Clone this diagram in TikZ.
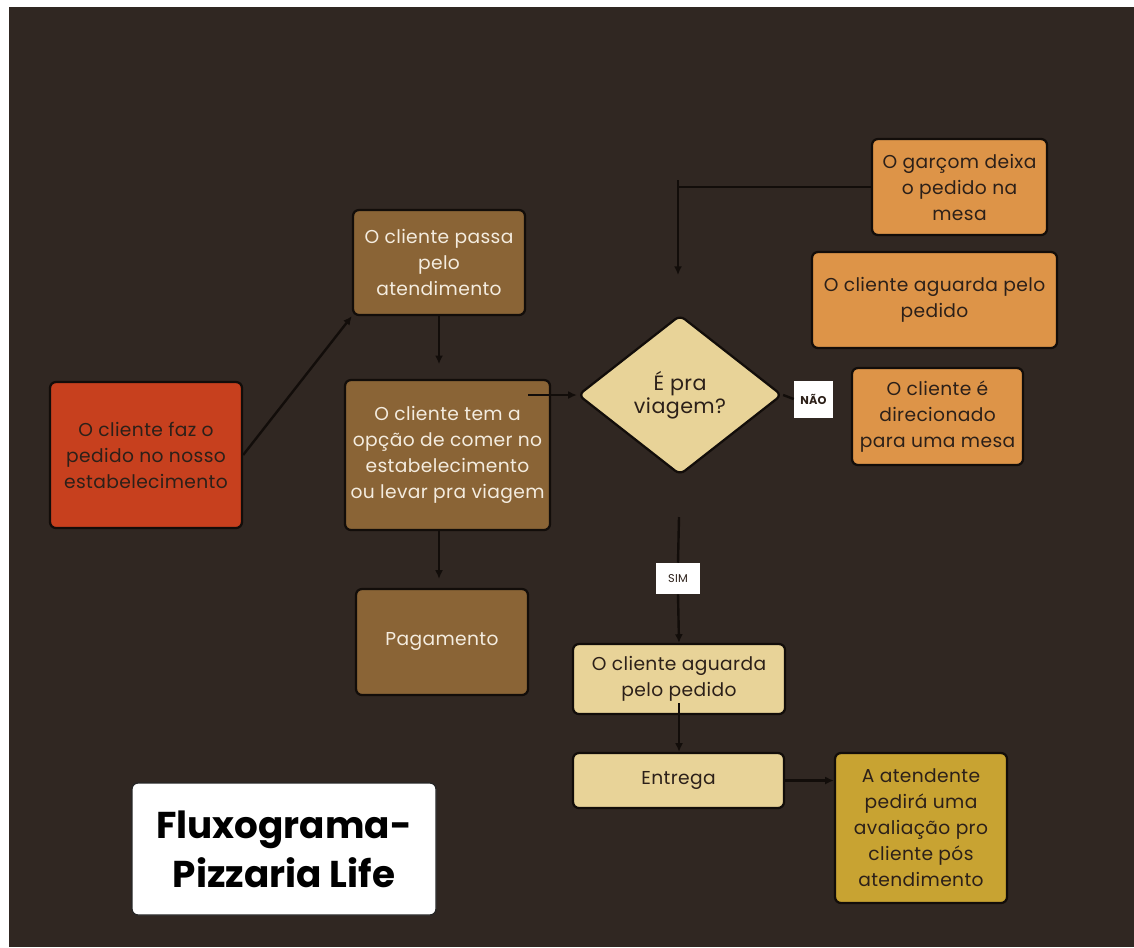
\documentclass[tikz,border=0pt]{standalone}
\usepackage{fontspec}
\setmainfont{Poppins}[LetterSpace=2]
\newfontfamily\titlefont{Poppins}
\usetikzlibrary{shapes.geometric,arrows.meta,calc}
\definecolor{bgdark}{HTML}{302722}
\definecolor{redbox}{HTML}{C7401E}
\definecolor{brownbox}{HTML}{8A6436}
\definecolor{lightbox}{HTML}{E8D398}
\definecolor{orangebox}{HTML}{DD9448}
\definecolor{goldbox}{HTML}{C8A332}
\definecolor{edgecol}{HTML}{120D0A}
\definecolor{darktext}{HTML}{2C2019}
\definecolor{creamtext}{HTML}{F4ECDF}
\begin{document}
\begin{tikzpicture}[x=0.75pt,y=-0.75pt,
  wh/.style 2 args={minimum width=#1*0.75pt, minimum height=#2*0.75pt},
  box/.style={draw=edgecol, line width=1.7pt, rounded corners=4.5pt, inner sep=0pt,
    align=center, font=\fontsize{14}{19.5}\selectfont, text=darktext},
  conn/.style={draw=edgecol, line width=1.8pt},
  arr/.style={conn, -{Latex[length=6.5pt,width=6pt]}},
  tag/.style={fill=white, draw=none, inner sep=0pt, align=center}]
\useasboundingbox (0,0) rectangle (1134,947);
\fill[white] (0,0) rectangle (1134,947);
\fill[bgdark] (9,7) rectangle (1134,947);

% nodes
\node[box, fill=redbox, wh={192}{146}] (red) at (146,455) {O cliente faz o\\pedido no nosso\\estabelecimento};
\node[box, fill=brownbox, text=creamtext, wh={172}{105}] (passa) at (439,262.5) {O cliente passa\\pelo\\atendimento};
\node[box, fill=brownbox, text=creamtext, wh={205}{150}] (opcao) at (447.5,455) {O cliente tem a\\opção de comer no\\estabelecimento\\ou levar pra viagem};
\node[box, fill=brownbox, text=creamtext, wh={172}{106}] (pag) at (442,642) {Pagamento};
\node[box, diamond, fill=lightbox, wh={204}{160}, font=\fontsize{15.5}{17.5}\selectfont] (dec) at (680,395) {É pra\\viagem?};
\node[tag, wh={39}{37}, font=\bfseries\fontsize{8.5}{10}\selectfont, text=darktext] (nao) at (813.5,399) {NÃO};
\node[box, fill=orangebox, wh={175}{96}] (garcom) at (959.5,187) {O garçom deixa\\o pedido na\\mesa};
\node[box, fill=orangebox, wh={245}{96}] (aguarda1) at (934.5,300) {O cliente aguarda pelo\\pedido};
\node[box, fill=orangebox, wh={171}{97}] (direc) at (937.5,416.5) {O cliente é\\direcionado\\para uma mesa};
\node[tag, wh={44}{31}, font=\fontsize{8.5}{10}\selectfont, text=darktext] (sim) at (678,578.5) {SIM};
\node[box, fill=lightbox, wh={212}{70}] (aguarda2) at (679,679) {O cliente aguarda\\pelo pedido};
\node[box, fill=lightbox, wh={211}{55}] (entrega) at (678.5,780.5) {Entrega};
\node[box, fill=goldbox, wh={172}{150}] (atend) at (921,828) {A atendente\\pedirá uma\\avaliação pro\\cliente pós\\atendimento};
\node[box, fill=white, draw=black!85, line width=1pt, wh={304}{132}, text=black,
  font=\titlefont\bfseries\fontsize{28}{37}\selectfont] (title) at (284,849) {Fluxograma-\\Pizzaria Life};

% helper coordinates
\coordinate (o1) at (528,395);
\coordinate (k1) at (678,180);
\coordinate (k2) at (678,275);
\coordinate (s1) at (679,517);
\coordinate (a2) at (679,703);

% connectors
\draw[arr] (red.east) -- (passa.south west);
\draw[arr, shorten >=11pt] (passa.south) -- (passa.south |- opcao.north);
\draw[arr] (o1) -- (dec.west);
\draw[conn] (dec.east) -- (nao.west);
\draw[conn] (garcom.west) -- (k1 |- garcom.west);
\draw[arr] (k1) -- (k2);
\draw[conn] (s1) -- (sim.north);
\draw[arr] (sim.south) -- (aguarda2.north);
\draw[arr] (a2) -- (entrega.north -| a2);
\draw[arr] (opcao.south -| passa.south) -- ($(pag.north -| passa.south)+(0,-9)$);
\draw[arr] (entrega.east) -- (entrega.east -| atend.west);
\end{tikzpicture}
\end{document}
